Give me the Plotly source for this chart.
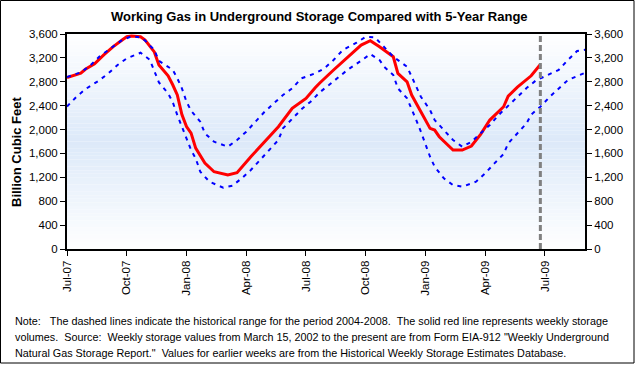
import plotly.graph_objects as go
from datetime import date, timedelta

# ---------------- data (Bcf), indexed by week since first week of July 2007 ----------------
START = date(2007, 7, 6)

red_weeks = [0, 3, 4, 6, 8, 10, 12, 13, 14, 16, 17, 18, 19, 20, 22, 23, 24, 25, 26, 27, 28,
             30, 32, 35, 37, 40, 43, 46, 49, 52, 54, 55, 58, 62, 64, 66, 68, 71, 72, 74, 75,
             77, 79, 80, 81, 84, 86, 88, 90, 92, 95, 96, 98, 101, 103]
red_values = [2870, 2945, 3010, 3100, 3250, 3385, 3500, 3555, 3565, 3555, 3500, 3400, 3300,
              3080, 2900, 2750, 2580, 2250, 2050, 1940, 1690, 1440, 1294, 1239, 1277, 1545,
              1796, 2047, 2355, 2522, 2700, 2780, 2997, 3276, 3415, 3487, 3387, 3219, 2941,
              2800, 2578, 2298, 2020, 1992, 1880, 1657, 1657, 1724, 1920, 2159, 2382, 2560,
              2710, 2900, 3090]

upper_weeks = [0, 3, 5, 7, 8, 10, 12, 14, 16, 17, 19, 20, 23, 24, 25, 26, 27, 29, 30, 32, 35,
               37, 39, 41, 43, 45, 47, 49, 51, 54, 56, 58, 60, 63, 65, 67, 69, 71, 74, 75, 77,
               79, 80, 82, 84, 86, 88, 90, 92, 94, 96, 98, 100, 102, 105, 107, 109, 111, 113]
upper_values = [2880, 2957, 3069, 3219, 3276, 3380, 3499, 3560, 3544, 3490, 3331, 3150, 3000,
                2857, 2690, 2466, 2315, 2131, 1937, 1796, 1713, 1825, 1964, 2131, 2298, 2439,
                2578, 2690, 2857, 2941, 3025, 3164, 3331, 3454, 3554, 3544, 3387, 3219, 3052,
                2884, 2550, 2327, 2159, 1992, 1825, 1713, 1796, 1937, 2076, 2250, 2400, 2555,
                2695, 2820, 2920, 3000, 3164, 3315, 3340]

lower_weeks = [0, 2, 4, 7, 9, 11, 13, 16, 18, 19, 20, 22, 23, 24, 26, 27, 28, 29, 31, 34, 36,
               38, 40, 42, 44, 46, 47, 49, 51, 53, 55, 57, 59, 61, 64, 66, 68, 69, 71, 72, 74,
               75, 76, 77, 78, 79, 80, 82, 84, 86, 89, 91, 93, 95, 96, 98, 100, 101, 103, 105,
               107, 109, 113]
lower_values = [2385, 2545, 2676, 2823, 2941, 3080, 3192, 3286, 3170, 2985, 2790, 2606, 2460,
                2243, 1870, 1657, 1518, 1294, 1127, 1026, 1060, 1183, 1322, 1490, 1657, 1825,
                2020, 2176, 2338, 2466, 2625, 2745, 2874, 2997, 3153, 3264, 3164, 3052, 2913,
                2690, 2522, 2355, 2159, 1964, 1741, 1545, 1378, 1183, 1071, 1043, 1127, 1267,
                1434, 1590, 1769, 1930, 2104, 2250, 2382, 2545, 2679, 2829, 2960]

tick_weeks = [0, 13, 26, 39, 52, 65, 78, 91, 104]
tick_labels = ["Jul-07", "Oct-07", "Jan-08", "Apr-08", "Jul-08", "Oct-08", "Jan-09", "Apr-09", "Jul-09"]

y_ticks = [0, 400, 800, 1200, 1600, 2000, 2400, 2800, 3200, 3600]

title_text = "Working Gas in Underground Storage Compared with 5-Year Range"
y_title = "Billion Cubic Feet"
NB = "\u00a0"
note_lines = [
    "Note:" + NB * 3 + "The dashed lines indicate the historical range for the period 2004-2008." + NB * 2 +
    "The solid red line represents weekly storage",
    "volumes." + NB * 2 + "Source:" + NB * 2 + "Weekly storage values from March 15, 2002 to the present are from Form EIA-912 \"Weekly Underground",
    "Natural Gas Storage Report.\"" + NB * 2 + "Values for earlier weeks are from the Historical Weekly Storage Estimates Database.",
]


def to_dates(weeks):
    return [START + timedelta(days=7 * w) for w in weeks]


FONT = "Liberation Sans, Arial, sans-serif"

fig = go.Figure()
fig.add_trace(go.Scatter(x=to_dates(red_weeks), y=red_values, mode="lines",
                         line=dict(color="#FF0000", width=3), showlegend=False, hoverinfo="skip"))
fig.add_trace(go.Scatter(x=to_dates(upper_weeks), y=upper_values, mode="lines",
                         line=dict(color="#0000FF", width=2, dash="4px,5px"), showlegend=False))
fig.add_trace(go.Scatter(x=to_dates(lower_weeks), y=lower_values, mode="lines",
                         line=dict(color="#0000FF", width=2, dash="4px,5px"), showlegend=False))
# invisible trace to anchor the right-hand axis
fig.add_trace(go.Scatter(x=to_dates(red_weeks), y=red_values, mode="lines", yaxis="y2",
                         line=dict(color="rgba(0,0,0,0)", width=0), showlegend=False, hoverinfo="skip"))

# gradient background of the plot area (white -> light blue -> white)
shapes = []
N = 60
c_edge = (255, 255, 255)
c_mid = (220, 233, 249)
for i in range(N):
    mid = (i + 0.5) / N
    t = 1 - abs(mid - 0.5) * 2
    col = tuple(round(c_edge[k] * (1 - t) + c_mid[k] * t) for k in range(3))
    shapes.append(dict(type="rect", xref="paper", yref="paper", x0=0, x1=1, y0=i / N, y1=(i + 1) / N,
                       fillcolor="rgb(%d,%d,%d)" % col, line=dict(width=0), layer="below"))

# current-week marker
shapes.append(dict(type="line", xref="x", yref="paper", x0=to_dates(red_weeks)[-1], x1=to_dates(red_weeks)[-1],
                   y0=0, y1=1, line=dict(color="#808080", width=3, dash="6px,3px")))

# outer border of the figure
L, R, T, B = 67, 53, 34, 117
W, H = 638, 366
pw, ph = W - L - R, H - T - B
shapes.append(dict(type="rect", xref="paper", yref="paper",
                   x0=(0.5 - L) / pw, x1=(634 - L) / pw, y0=(H - B - 363) / ph, y1=(H - B - 0.5) / ph,
                   line=dict(color="black", width=1), fillcolor="rgba(0,0,0,0)"))

annotations = []
for i, line in enumerate(note_lines):
    annotations.append(dict(text=line, xref="paper", yref="paper", x=(13 - L) / pw,
                            y=(H - B - (321 + 16 * i)) / ph, xanchor="left", yanchor="middle",
                            showarrow=False, font=dict(family=FONT, size=10.8, color="black")))
annotations.append(dict(text="<b>" + y_title + "</b>", xref="paper", yref="paper",
                        x=(16 - L) / pw, y=(H - B - 152) / ph, textangle=-90,
                        xanchor="center", yanchor="middle", showarrow=False,
                        font=dict(family=FONT, size=13, color="black")))
annotations.append(dict(text="<b>" + title_text + "</b>", xref="paper", yref="paper",
                        x=(319 - L) / pw, y=(H - B - 17) / ph, xanchor="center", yanchor="middle",
                        showarrow=False, font=dict(family=FONT, size=13, color="black")))

axis_common = dict(range=[0, 3600], tickvals=y_ticks, tickformat=",d", ticks="outside", ticklen=5,
                   tickcolor="black", showline=True, linecolor="black", linewidth=2, showgrid=False,
                   zeroline=False, tickfont=dict(family=FONT, size=11.5, color="black"), fixedrange=True)

fig.update_layout(
    width=W, height=H,
    margin=dict(l=L, r=R, t=T, b=B, pad=0),
    paper_bgcolor="white", plot_bgcolor="rgba(0,0,0,0)",
    showlegend=False,
    xaxis=dict(type="date", range=[START, START + timedelta(days=789)],
               tickvals=to_dates(tick_weeks), ticktext=tick_labels, tickangle=-90,
               ticks="outside", ticklen=5, tickcolor="black", showline=True, linecolor="black",
               linewidth=2, mirror=True, showgrid=False, zeroline=False, fixedrange=True,
               tickfont=dict(family=FONT, size=11.5, color="black")),
    yaxis=dict(side="left", **axis_common),
    yaxis2=dict(side="right", overlaying="y", **axis_common),
    shapes=shapes,
    annotations=annotations,
)

fig.write_html("out.html", config={"displayModeBar": False},
               post_script="document.body.style.margin='0';")
